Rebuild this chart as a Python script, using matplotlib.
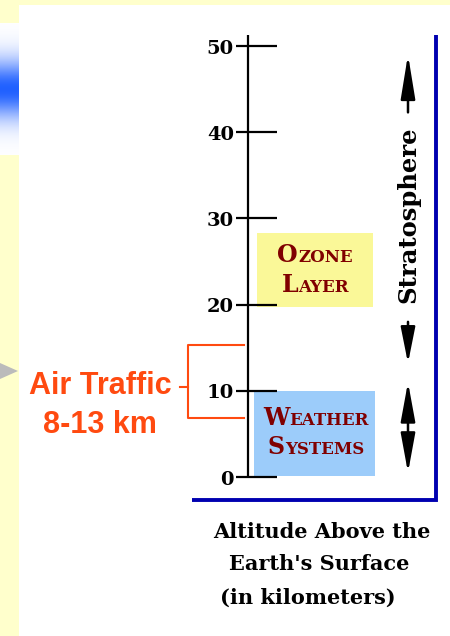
import numpy as np
import matplotlib
matplotlib.use("Agg")
import matplotlib.pyplot as plt
from matplotlib.patches import Rectangle, Polygon
from matplotlib.offsetbox import TextArea, HPacker, VPacker, AnnotationBbox

# ---------------- data ----------------
altitude_ticks = [0, 10, 20, 30, 40, 50]
axis_top_km = 51.3
ozone_layer_km = (19.7, 28.3)
weather_km = (0.1, 10.0)
air_traffic_km = (6.8, 15.3)
air_traffic_label = ["Air Traffic", "8-13 km"]
strat_up_arrow_km = (42.3, 49.0)
strat_down_arrow_km = (18.0, 13.2)
tropo_arrow_km = (0.5, 11.0)
strat_label_km = 30.4
frame_bottom_km = -2.7
bottom_caption = ["Altitude Above the", "Earth's Surface", "(in kilometers)"]

# ---------------- figure ----------------
W, H, DPI = 450, 636, 100
fig = plt.figure(figsize=(W / DPI, H / DPI), dpi=DPI)
fig.patch.set_facecolor("#FFFFCC")

# background decoration axes in pixel coords
bg = fig.add_axes([0, 0, 1, 1])
bg.set_xlim(0, W)
bg.set_ylim(H, 0)
bg.axis("off")
bg.add_patch(Rectangle((19, 5), W - 19, H - 5, facecolor="white", edgecolor="none"))
# blue gradient strip
grad = np.linspace(0, 1, 200)
prof = np.exp(-((grad - 0.5) / 0.22) ** 2)
col_top = np.array([1.0, 1.0, 1.0])
col_mid = np.array([0.13, 0.38, 1.0])
img = col_top[None, :] * (1 - prof[:, None]) + col_mid[None, :] * prof[:, None]
img = np.repeat(img[:, None, :], 4, axis=1)
bg.imshow(img, extent=(0, 19, 155, 23), aspect="auto", interpolation="bilinear", zorder=1)
bg.set_xlim(0, W)
bg.set_ylim(H, 0)
bg.add_patch(Polygon([(0, 363), (18, 371), (0, 379)], closed=True,
                     facecolor="#BBBBBB", edgecolor="none"))

serif = ["DejaVu Serif"]
for txt, x, y in zip(bottom_caption, [322, 319, 308], [532, 564, 598]):
    bg.text(x, y, txt, ha="center", va="center", family=serif,
            fontweight="bold", fontsize=15, color="black")

# main axes: x in pixels, y in km
ax = fig.add_axes([0, 0, 1, 1], facecolor="none")
px_per_km = 8.62
zero_px = 477
ax.set_xlim(0, W)
ax.set_ylim((zero_px - H) / px_per_km, zero_px / px_per_km)
ax.axis("off")

# boxes
ax.add_patch(Rectangle((257, ozone_layer_km[0]), 116, ozone_layer_km[1] - ozone_layer_km[0],
                       facecolor="#FAF898", edgecolor="none", zorder=1))
ax.add_patch(Rectangle((254, weather_km[0]), 121, weather_km[1] - weather_km[0],
                       facecolor="#9CCCFA", edgecolor="none", zorder=1))

# altitude axis
ax.vlines(248, 0, axis_top_km, color="black", lw=1.6, zorder=3)
ax.hlines(altitude_ticks, 236, 277, color="black", lw=1.6, zorder=3)
for t in altitude_ticks:
    ax.text(234, t - 0.3, str(t), ha="right", va="center", family=serif,
            fontweight="bold", fontsize=14, color="black")

# blue frame
ax.plot([192, 436, 436], [frame_bottom_km, frame_bottom_km, axis_top_km],
        color="#0000B0", lw=2.8, solid_capstyle="butt", solid_joinstyle="miter", zorder=3)

# small caps labels
def smallcaps(lines, color="#800000"):
    rows = []
    for first, rest in lines:
        a = TextArea(first, textprops=dict(family=serif, fontweight="bold",
                                           fontsize=17, color=color))
        b = TextArea(rest, textprops=dict(family=serif, fontweight="bold",
                                          fontsize=12, color=color))
        rows.append(HPacker(children=[a, b], align="baseline", pad=0, sep=0))
    return VPacker(children=rows, align="center", pad=0, sep=4)

ab = AnnotationBbox(smallcaps([("O", "ZONE"), ("L", "AYER")]),
                    (315, sum(ozone_layer_km) / 2), frameon=False, box_alignment=(0.5, 0.5))
ax.add_artist(ab)
ab2 = AnnotationBbox(smallcaps([("W", "EATHER"), ("S", "YSTEMS")]),
                     (316, sum(weather_km) / 2 + 0.1), frameon=False, box_alignment=(0.5, 0.5))
ax.add_artist(ab2)

# air traffic bracket
orange = "#FF4A10"
lo, hi = air_traffic_km
ax.plot([244, 188, 188, 244], [hi, hi, lo, lo], color=orange, lw=1.5, zorder=3)
stub = 10.4
ax.plot([180, 188], [stub, stub], color=orange, lw=1.5, zorder=3)
ax.text(100, stub + 0.1, air_traffic_label[0], ha="center", va="center",
        family=["Liberation Sans"], fontweight="bold", fontsize=22, color=orange)
ax.text(100, stub - 4.4, air_traffic_label[1], ha="center", va="center",
        family=["Liberation Sans"], fontweight="bold", fontsize=22, color=orange)

# stratosphere label and arrows
ax.text(408, strat_label_km, "Stratosphere", rotation=90, ha="center", va="center",
        family=serif, fontweight="bold", fontsize=17.5, color="black")
arr = dict(color="black", lw=1.8, mutation_scale=20, shrinkA=0, shrinkB=0)
ax.annotate("", xy=(408, strat_up_arrow_km[1]), xytext=(408, strat_up_arrow_km[0]),
            arrowprops=dict(arrowstyle="-|>,head_length=1.35,head_width=0.22", **arr))
ax.annotate("", xy=(408, strat_down_arrow_km[1]), xytext=(408, strat_down_arrow_km[0]),
            arrowprops=dict(arrowstyle="-|>,head_length=1.1,head_width=0.22", **arr))
ax.annotate("", xy=(408, tropo_arrow_km[0]), xytext=(408, tropo_arrow_km[1]),
            arrowprops=dict(arrowstyle="<|-|>,head_length=1.2,head_width=0.22", **arr))

fig.savefig("out.png", dpi=DPI)
